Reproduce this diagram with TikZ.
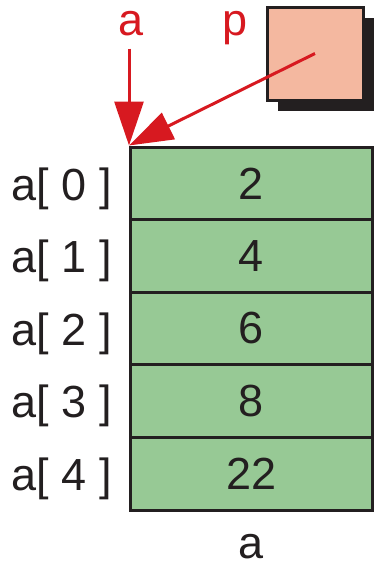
\documentclass[tikz,border=0pt]{standalone}
\usepackage{fontspec}
\setmainfont{Liberation Sans}
\usetikzlibrary{arrows.meta,shadows}
\definecolor{cellgreen}{HTML}{97C995}
\definecolor{salmon}{HTML}{F4B8A0}
\definecolor{ptrred}{HTML}{D71920}
\definecolor{ink}{HTML}{231F20}
\begin{document}
\begin{tikzpicture}[x=1pt,y=-1pt,
  cell/.style={draw=ink, line width=3pt, fill=cellgreen, minimum width=242pt,
    minimum height=72.6pt, inner sep=0pt, font=\fontsize{45}{45}\selectfont, text=ink},
  idx/.style={font=\fontsize{45}{45}\selectfont, text=ink, inner sep=0pt, anchor=base},
  ptr/.style={draw=ptrred, line width=3pt, -{Triangle[length=44pt,width=29pt]}},
  lbl/.style={font=\fontsize{45}{45}\selectfont, text=ptrred, inner sep=0pt, anchor=base}]
\useasboundingbox (0,0) rectangle (376,566);
% array cells
\node[cell] (c0) at (251.5,183.3) {2};
\node[cell] (c1) at (251.5,255.9) {4};
\node[cell] (c2) at (251.5,328.5) {6};
\node[cell] (c3) at (251.5,401.1) {8};
\node[cell] (c4) at (251.5,473.7) {22};
% index labels
\node[idx] (i0) at (62,200) {a[ 0 ]};
\node[idx] (i1) at (62,272.6) {a[ 1 ]};
\node[idx] (i2) at (62,345.2) {a[ 2 ]};
\node[idx] (i3) at (62,417.8) {a[ 3 ]};
\node[idx] (i4) at (62,490.4) {a[ 4 ]};
% array name
\node[idx] (aname) at (251.5,558) {a};
% pointer box
\node[draw=ink, line width=3pt, fill=salmon, minimum width=96pt, minimum height=93pt,
  inner sep=0pt, drop shadow={shadow xshift=11pt, shadow yshift=-11pt, fill=ink, opacity=1}]
  (pbox) at (315,53.5) {};
% red labels
\node[lbl] (alabel) at (131,35) {a};
\node[lbl] (plabel) at (235,35) {p};
% arrows
\draw[ptr] (c0.north west |- alabel.south) ++(0,13) -- (c0.north west);
\draw[ptr] (pbox.center) -- (c0.north west);
\end{tikzpicture}
\end{document}
